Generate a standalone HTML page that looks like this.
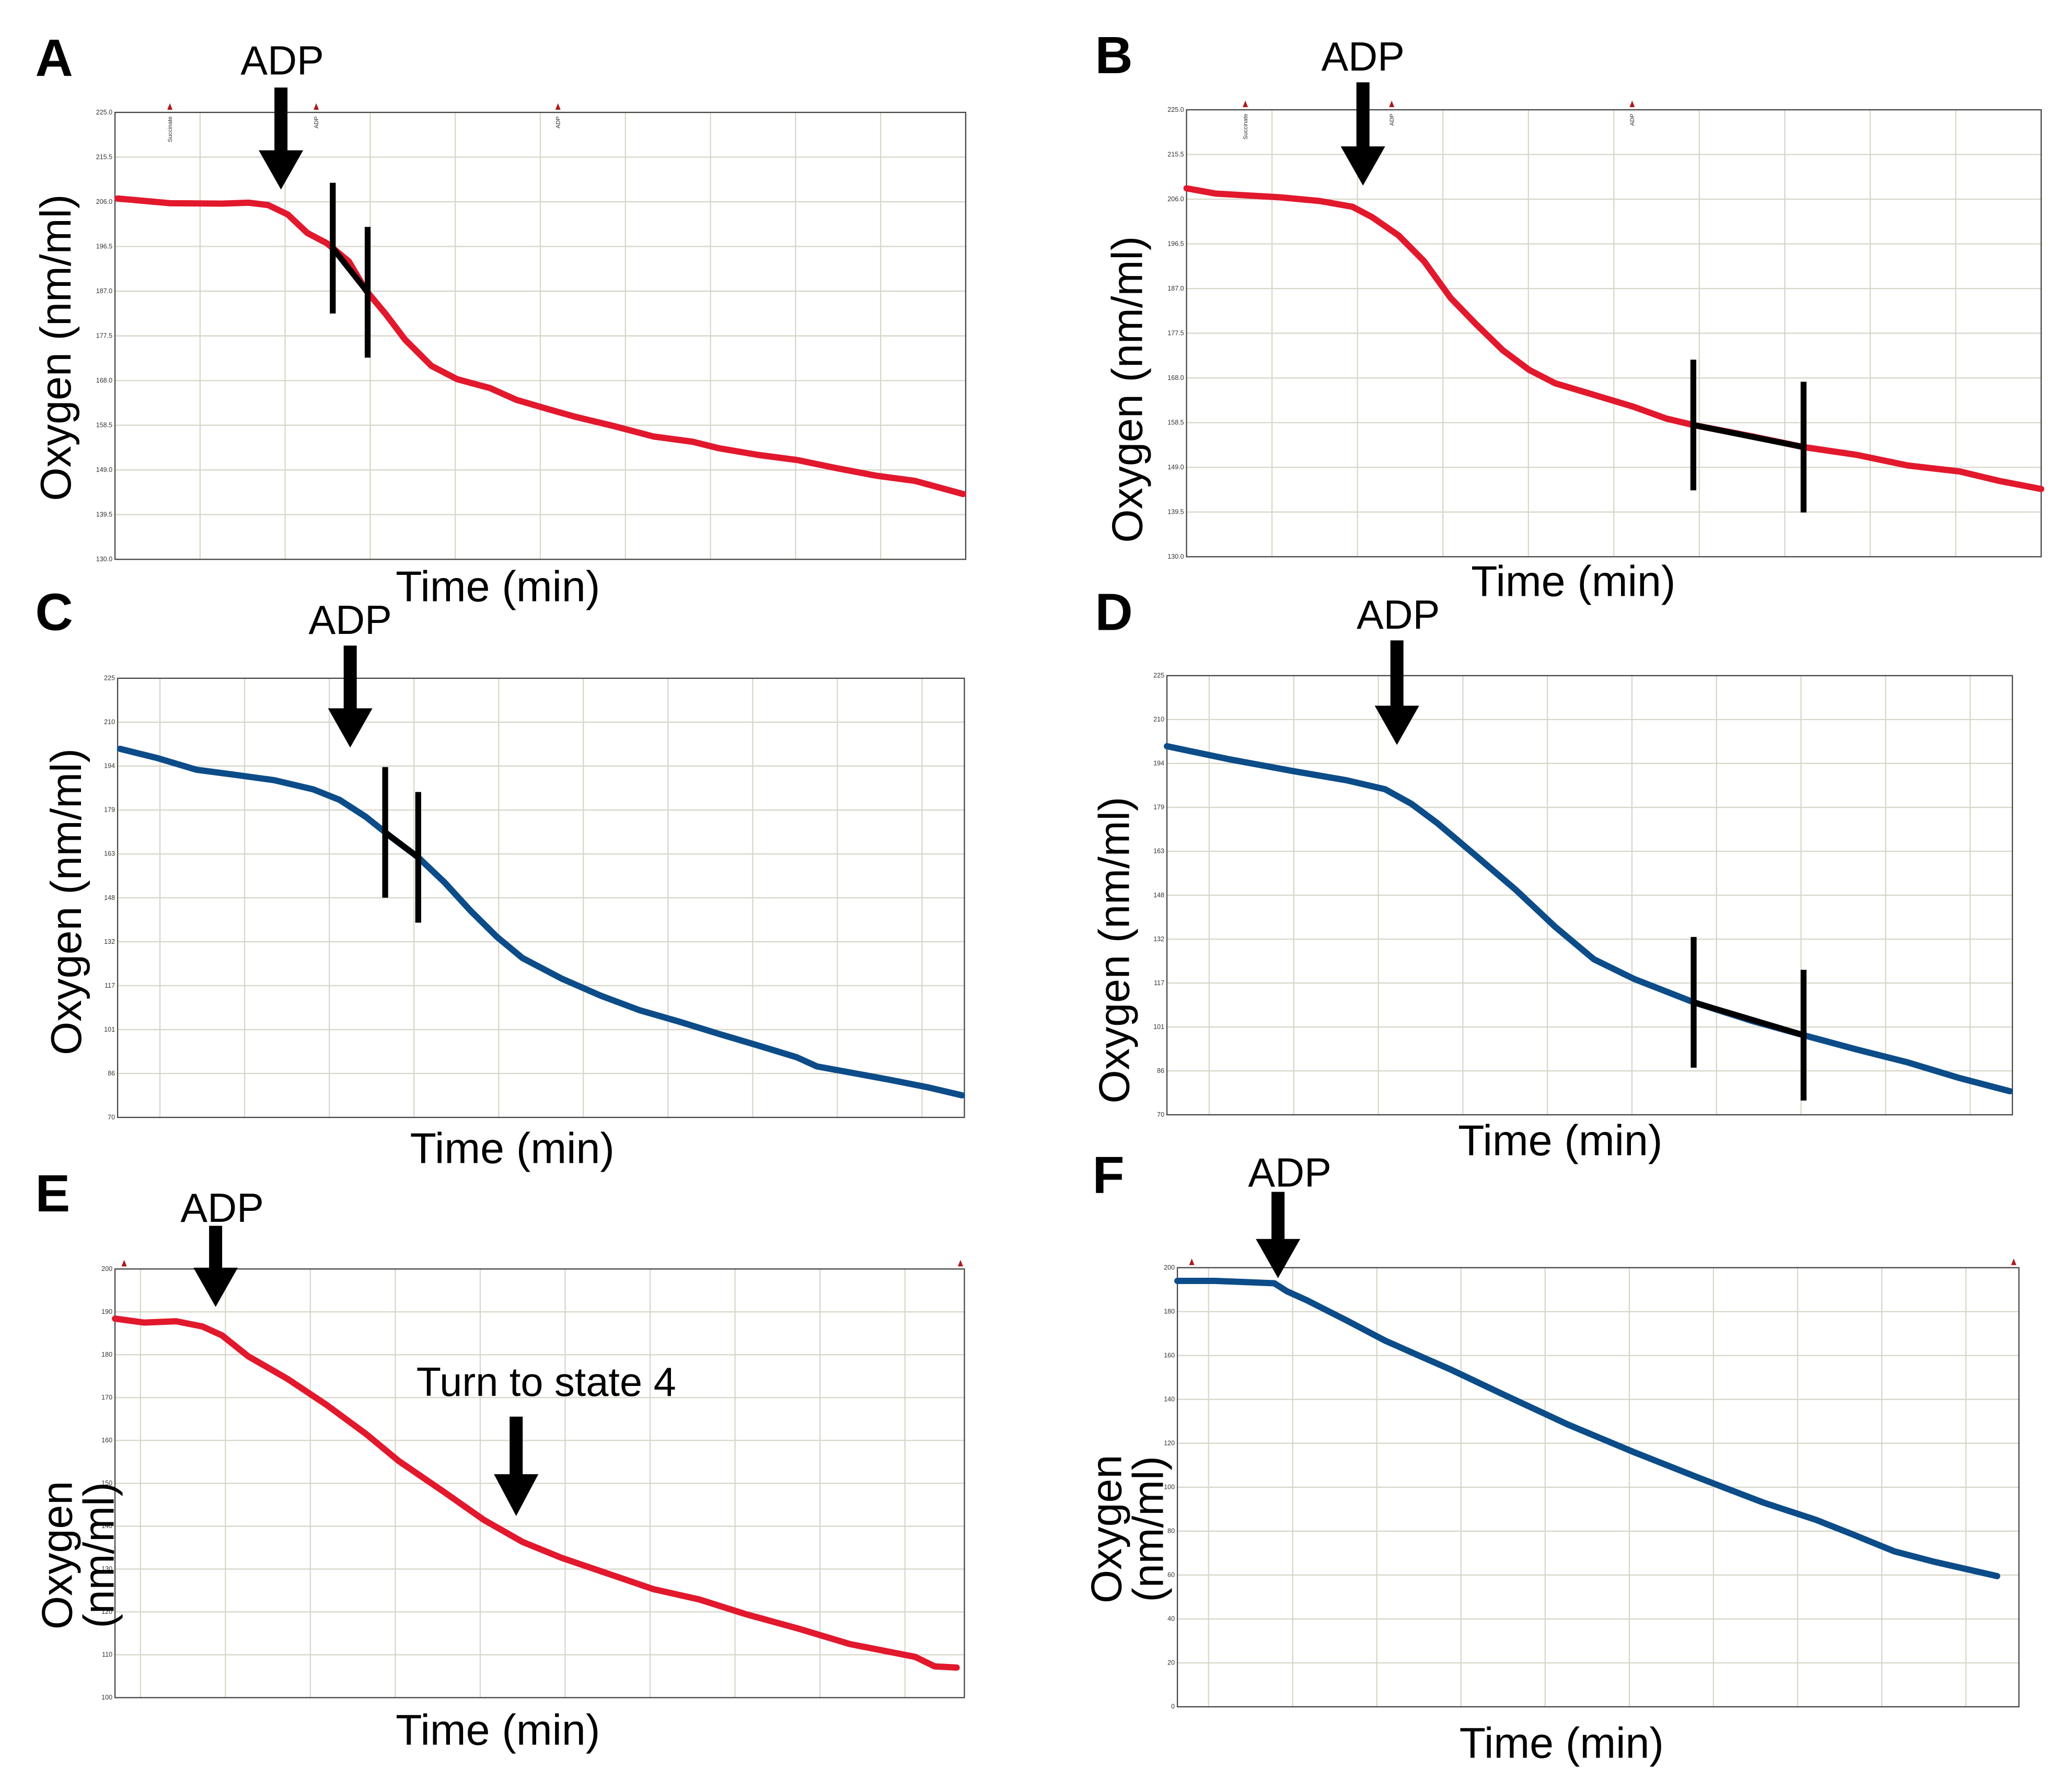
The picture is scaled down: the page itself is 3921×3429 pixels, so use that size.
<!DOCTYPE html>
<html><head><meta charset="utf-8"><style>
html,body{margin:0;padding:0;background:#fff;}
svg{display:block;}
text{font-family:"Liberation Sans",sans-serif;}
</style></head><body>
<svg id="fig" width="3921" height="3429" viewBox="0 0 1568 1371.2" preserveAspectRatio="none" xmlns="http://www.w3.org/2000/svg"></svg>
<script>
// ---- data (time in grid units 0..10, oxygen in nm/ml) ----
const ticksA = ["225.0","215.5","206.0","196.5","187.0","177.5","168.0","158.5","149.0","139.5","130.0"];
const ticksC = ["225","210","194","179","163","148","132","117","101","86","70"];
const ticksE = ["200","190","180","170","160","150","140","130","120","110","100"];
const ticksF = ["200","180","160","140","120","100","80","60","40","20","0"];

const timeA = [0.03,0.65,1.26,1.57,1.80,2.03,2.26,2.49,2.75,2.95,3.18,3.41,3.72,4.02,4.41,4.72,5.10,5.41,5.87,6.33,6.79,7.10,7.56,8.02,8.48,8.94,9.40,9.97];
const oxyA  = [206.7,205.7,205.6,205.8,205.3,203.3,199.4,197.2,193.3,187.2,182.2,176.7,171.1,168.3,166.4,163.9,161.9,160.3,158.3,156.1,155.0,153.6,152.2,151.1,149.4,147.8,146.7,143.9];

const timeB = [0,0.34,1.1,1.56,1.94,2.17,2.48,2.78,3.09,3.39,3.70,4.01,4.31,4.77,5.23,5.61,5.93,6.61,7.22,7.83,8.44,9.05,9.51,10];
const oxyB  = [208.3,207.2,206.4,205.6,204.4,202.2,198.3,192.8,185.0,179.4,173.9,169.7,166.9,164.4,161.9,159.4,158.0,155.6,153.3,151.7,149.4,148.1,146.1,144.4];

const timeC = [0.03,0.46,0.93,1.39,1.85,2.31,2.62,2.93,3.24,3.55,3.86,4.17,4.48,4.78,5.25,5.71,6.17,6.64,7.10,7.56,8.02,8.26,8.64,9.10,9.57,9.97];
const oxyC  = [200.1,196.9,192.7,190.9,189.0,185.8,182.1,176.1,168.7,161.8,153.0,142.9,133.7,126.3,118.9,112.9,107.8,103.7,99.5,95.4,91.2,88.0,85.9,83.4,80.6,77.8];

const timeD = [0,0.73,1.50,2.12,2.58,2.89,3.20,3.66,4.13,4.59,5.05,5.52,6.23,6.91,7.53,8.15,8.76,9.38,9.97];
const oxyD  = [200.1,195.5,191.3,188.1,184.9,179.8,172.9,161.3,149.3,136.4,124.9,118.0,109.7,103.2,98.1,93.1,88.5,82.9,78.3];

const timeE = [0,0.34,0.72,1.03,1.26,1.57,2.03,2.49,2.95,3.34,3.88,4.34,4.80,5.26,5.88,6.34,6.88,7.42,8.03,8.65,9.42,9.65,9.91];
const oxyE  = [188.4,187.5,187.8,186.6,184.5,179.6,174.4,168.3,161.6,155.2,147.9,141.5,136.3,132.6,128.4,125.3,122.9,119.5,116.2,112.5,109.5,107.3,107.0];

const timeF = [0,0.45,1.15,1.30,1.54,2.0,2.47,2.93,3.25,3.87,4.64,5.42,6.20,6.97,7.59,8.06,8.52,8.99,9.74];
const oxyF  = [194.0,194.0,192.9,189.3,185.1,176.2,166.7,158.9,153.6,142.3,128.6,116.1,104.2,92.9,85.1,78.0,70.8,66.1,59.5];

// slope-fit segments: [t1, t2]
const fitA = [2.56, 2.97];
const fitB = [5.93, 7.22];
const fitC = [3.16, 3.55];
const fitD = [6.23, 7.53];

const NS = "http://www.w3.org/2000/svg";
const svg = document.getElementById('fig');
function mk(tag, attrs, parent){
  const e = document.createElementNS(NS, tag);
  for (const k in attrs) e.setAttribute(k, attrs[k]);
  (parent||svg).appendChild(e);
  return e;
}
function interp(ts, vs, t){
  for (let i=1;i<ts.length;i++){ if (t<=ts[i]){ const f=(t-ts[i-1])/(ts[i]-ts[i-1]); return vs[i-1]+f*(vs[i]-vs[i-1]); } }
  return vs[vs.length-1];
}

const RED = "#e2182d", BLUE = "#0c4c88";
const panels = [
 {id:"a", letter:"A", x0:88, x1:739, y0:86, y1:428, vmax:225, vmin:130, ticks:ticksA, ts:timeA, vs:oxyA, col:RED, goff:0, fit:fitA,
  arrow:{x:215, y0:67, y1:145}, adp:[216,57], lx:27, ly:58, ylab:[42,266], ylab2:false, time:[381,460], markers:[[130,"Succinate"],[242,"ADP"],[427,"ADP"]]},
 {id:"b", letter:"B", x0:908, x1:1562, y0:84, y1:426, vmax:225, vmin:130, ticks:ticksA, ts:timeB, vs:oxyB, col:RED, goff:0, fit:fitB,
  arrow:{x:1043, y0:63, y1:142}, adp:[1043,54], lx:838, ly:56, ylab:[862,298], ylab2:false, time:[1204,456], markers:[[953,"Succinate"],[1065,"ADP"],[1249,"ADP"]]},
 {id:"c", letter:"C", x0:90, x1:738, y0:519, y1:855, vmax:225, vmin:70, ticks:ticksC, ts:timeC, vs:oxyC, col:BLUE, goff:0.5, fit:fitC,
  arrow:{x:268, y0:494, y1:572}, adp:[268,485], lx:27, ly:482, ylab:[50,690], ylab2:false, time:[392,890], markers:[]},
 {id:"d", letter:"D", x0:893, x1:1540, y0:517, y1:853, vmax:225, vmin:70, ticks:ticksC, ts:timeD, vs:oxyD, col:BLUE, goff:0.5, fit:fitD,
  arrow:{x:1069, y0:490, y1:570}, adp:[1070,481], lx:838, ly:482, ylab:[852,727], ylab2:false, time:[1194,884], markers:[]},
 {id:"e", letter:"E", x0:88, x1:738, y0:971, y1:1299, vmax:200, vmin:100, ticks:ticksE, ts:timeE, vs:oxyE, col:RED, goff:0.3, fit:null,
  arrow:{x:165, y0:938, y1:1000}, adp:[170,935], lx:27, ly:927, ylab:[55,1190], ylab2:true, time:[381,1335], markers:[[95,""],[735,""]]},
 {id:"f", letter:"F", x0:901, x1:1545, y0:970, y1:1306, vmax:200, vmin:0, ticks:ticksF, ts:timeF, vs:oxyF, col:BLUE, goff:0.37, fit:null,
  arrow:{x:978, y0:912, y1:978}, adp:[987,908], lx:836, ly:913, ylab:[858,1170], ylab2:true, time:[1195,1345], markers:[[912,""],[1541,""]]}
];

panels.forEach(p=>{
  const g = mk('g', {});
  
  
  const sx = t => p.x0 + t*(p.x1-p.x0)/10;
  const sy = v => p.y0 + (p.vmax-v)*(p.y1-p.y0)/(p.vmax-p.vmin);

  const grid = mk('g', {stroke:"#d6d6c8", "stroke-width":0.9}, g);
  
  
  for (let i=0;i<p.ticks.length;i++){
    const y = p.y0 + i*(p.y1-p.y0)/(p.ticks.length-1);
    mk('line',{x1:p.x0,x2:p.x1,y1:y,y2:y},grid);
    const tl = mk('text',{x:p.x0-2,y:y+1.5,"font-size":5,"text-anchor":"end",fill:"#333"},g);
    tl.textContent = p.ticks[i];
    
    
  }
  for (let k=0;k<11;k++){
    const t = k + p.goff;
    if (t<=0.05 || t>=9.95) continue;
    mk('line',{x1:sx(t),x2:sx(t),y1:p.y0,y2:p.y1},grid);
  }
  const frame = mk('rect',{x:p.x0,y:p.y0,width:p.x1-p.x0,height:p.y1-p.y0,fill:"none",stroke:"#444","stroke-width":0.9},g);
  
  

  p.markers.forEach(m=>{
    const tri = mk('polygon',{points:`${m[0]-2},${p.y0-2} ${m[0]+2},${p.y0-2} ${m[0]},${p.y0-7}`,fill:"#b01818"},g);
    
    
    if (m[1]){
      const mt = mk('text',{x:0,y:0,"font-size":4.5,fill:"#333",transform:`translate(${m[0]+1.5},${p.y0+3}) rotate(-90)`,"text-anchor":"end"},g);
      mt.textContent = m[1];
      
      
    }
  });

  let d = "";
  p.ts.forEach((t,i)=>{ d += (i?"L":"M")+sx(t).toFixed(1)+","+sy(p.vs[i]).toFixed(1); });
  const line = mk('path',{d:d,fill:"none",stroke:p.col,"stroke-width":4.8,"stroke-linejoin":"round","stroke-linecap":"round"},g);
  
  

  if (p.fit){
    const t1=p.fit[0], t2=p.fit[1];
    const y1=sy(interp(p.ts,p.vs,t1)), y2=sy(interp(p.ts,p.vs,t2));
    const fl = mk('line',{x1:sx(t1),y1:y1,x2:sx(t2),y2:y2,stroke:"#000","stroke-width":4.5},g);
    
    
    [[t1,y1],[t2,y2]].forEach(q=>{
      const b = mk('line',{x1:sx(q[0]),x2:sx(q[0]),y1:q[1]-50,y2:q[1]+50,stroke:"#000","stroke-width":4.5},g);
      
      
    });
  }

  const a = p.arrow;
  const ar = mk('polygon',{points:`${a.x-5},${a.y0} ${a.x+5},${a.y0} ${a.x+5},${a.y1-30} ${a.x+17},${a.y1-30} ${a.x},${a.y1} ${a.x-17},${a.y1-30} ${a.x-5},${a.y1-30}`,fill:"#000"},g);
  
  
  const at = mk('text',{x:p.adp[0],y:p.adp[1],"font-size":31,"text-anchor":"middle",fill:"#000"},g);
  at.textContent = "ADP";
  
  

  const lt = mk('text',{x:p.lx,y:p.ly,"font-size":40,"font-weight":"bold",fill:"#000"},g);
  lt.textContent = p.letter;
  
  

  if (!p.ylab2){
    const yl = mk('text',{x:0,y:0,"font-size":33,"text-anchor":"middle",fill:"#000",transform:`translate(${p.ylab[0]+12},${p.ylab[1]}) rotate(-90)`},g);
    yl.textContent = "Oxygen (nm/ml)";
    
    
  } else {
    const yl = mk('text',{x:0,y:0,"font-size":33,"text-anchor":"middle",fill:"#000",transform:`translate(${p.ylab[0]},${p.ylab[1]}) rotate(-90)`},g);
    
    
    const s1 = mk('tspan',{x:0,dy:0},yl); s1.textContent="Oxygen";
    const s2 = mk('tspan',{x:0,dy:32},yl); s2.textContent="(nm/ml)";
  }
  const xl = mk('text',{x:p.time[0],y:p.time[1],"font-size":33,"text-anchor":"middle",fill:"#000"},g);
  xl.textContent = "Time (min)";
  
  
});

const ar2 = mk('polygon',{points:"390,1084 400,1084 400,1128 412,1128 395,1160 378,1128 390,1128",fill:"#000"});


const st4 = mk('text',{x:418,y:1068,"font-size":31,"text-anchor":"middle",fill:"#000"});
st4.textContent = "Turn to state 4";


</script>
</body></html>
